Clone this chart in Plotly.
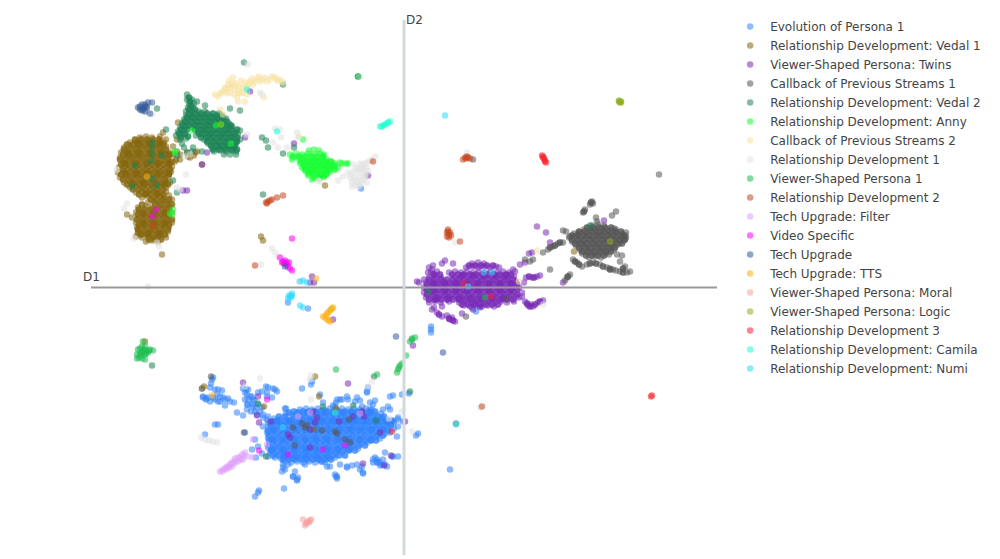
import plotly.graph_objects as go

# D1 / D2 values
evolution_persona = [
    (-104,-122),(-98,-121),(-92,-122),(-86,-121),(-80,-122),(-74,-121),(-68,-122),(-62,-121),(-56,-122),(-50,-121),(-44,-122),(-38,-121),(-32,-122),
    (-118,-126),(-112,-127),(-107,-126),(-101,-127),(-95,-126),(-89,-127),(-83,-126),(-77,-127),(-71,-126),(-65,-127),(-59,-126),(-53,-127),(-47,-126),(-41,-127),(-35,-126),(-29,-127),(-23,-126),
    (-130,-131),(-124,-132),(-118,-131),(-113,-132),(-107,-131),(-101,-132),(-95,-131),(-89,-132),(-83,-131),(-77,-132),(-71,-131),(-65,-132),(-59,-131),(-53,-132),(-47,-131),(-41,-132),(-35,-131),(-29,-132),(-23,-131),(-17,-132),
    (-134,-136),(-128,-135),(-122,-136),(-116,-135),(-110,-136),(-104,-135),(-98,-136),(-92,-135),(-86,-136),(-80,-135),(-74,-136),(-68,-135),(-62,-136),(-56,-135),(-50,-136),(-44,-135),(-38,-136),(-32,-135),(-26,-136),(-20,-135),(-14,-136),(-10,-135),
    (-136,-140),(-130,-141),(-124,-140),(-118,-141),(-112,-140),(-106,-141),(-100,-140),(-94,-141),(-88,-140),(-82,-141),(-76,-140),(-70,-141),(-64,-140),(-58,-141),(-52,-140),(-46,-141),(-40,-140),(-34,-141),(-28,-140),(-22,-141),(-16,-140),(-10,-141),
    (-133,-145),(-127,-146),(-121,-145),(-115,-146),(-109,-145),(-103,-146),(-97,-145),(-91,-146),(-85,-145),(-79,-146),(-73,-145),(-67,-146),(-61,-145),(-55,-146),(-49,-145),(-43,-146),(-37,-145),(-31,-146),(-25,-145),(-19,-146),
    (-136,-150),(-130,-151),(-124,-150),(-118,-151),(-112,-150),(-106,-151),(-100,-150),(-94,-151),(-88,-150),(-82,-151),(-76,-150),(-70,-151),(-64,-150),(-58,-151),(-52,-150),(-46,-151),(-40,-150),(-34,-151),(-28,-150),(-24,-151),
    (-133,-155),(-127,-156),(-121,-155),(-115,-156),(-109,-155),(-103,-156),(-97,-155),(-91,-156),(-85,-155),(-79,-156),(-73,-155),(-67,-156),(-61,-155),(-55,-156),(-49,-155),(-43,-156),(-37,-155),
    (-136,-160),(-130,-161),(-124,-160),(-118,-161),(-112,-160),(-106,-161),(-100,-160),(-94,-161),(-88,-160),(-82,-161),(-76,-160),(-70,-161),(-64,-160),(-58,-161),(-52,-160),(-46,-161),
    (-134,-165),(-128,-166),(-122,-165),(-116,-166),(-110,-165),(-104,-166),(-98,-165),(-92,-166),(-86,-165),(-80,-166),(-74,-165),(-68,-166),(-62,-165),
    (-129,-170),(-123,-171),(-117,-170),(-111,-171),(-105,-170),(-99,-171),(-93,-170),(-87,-171),(-81,-170),(-75,-171),(-69,-170),
    (-119,-174),(-113,-175),(-107,-174),(-101,-175),(-95,-174),(-89,-175),(-83,-174),(-79,-175),
    # left clump
    (-192,-92),(-202,-101),(-189,-102),(-182,-103),(-201,-110),(-196,-110),(-189,-112),(-184,-114),(-179,-112),(-174,-114),(-170,-115),(-179,-118),(-167,-125),(-186,-137),(-199,-147),(-189,-137),(-193,-96),(-198,-111),
    (-201,-109),(-198,-112),(-194,-114),(-191,-110),(-186,-114),(-184,-109),(-181,-110),(-176,-111),(-191,-90),(-194,-100),(-186,-102),(-187,-107),
    # column above the body
    (-161,-101),(-157,-107),(-159,-112),(-154,-109),(-156,-117),(-157,-122),(-151,-119),(-147,-127),(-144,-124),(-141,-130),(-146,-105),(-137,-105),(-129,-102),(-138,-99),(-132,-110),(-161,-128),(-141,-139),(-136,-129),(-150,-113),(-153,-124),(-148,-120),(-158,-102),
    (-156,-102),(-152,-109),(-151,-112),(-159,-105),(-152,-117),(-146,-117),(-142,-120),(-149,-124),(-141,-127),(-137,-132),(-136,-135),(-156,-112),(-157,-117),(-136,-100),(-131,-101),(-127,-104),(-142,-104),(-137,-109),
    (-149,-152),(-146,-159),(-152,-162),(-137,-145),(-136,-169),(-159,-145),(-142,-166),(-148,-170),
    # spikes under the body
    (-121,-177),(-119,-182),(-122,-184),(-116,-177),(-111,-189),(-106,-190),(-109,-184),(-107,-193),(-68,-189),(-69,-187),(-67,-191),(-77,-179),(-64,-177),(-57,-180),(-47,-177),(-44,-182),(-41,-186),(-27,-172),(-22,-177),(-19,-165),(-12,-169),(-6,-169),(-31,-175),(-25,-174),(-52,-178),
    (-29,-170),(-26,-175),(-19,-177),(-11,-169),(-121,-180),(-111,-189),(-107,-192),(-99,-177),(-82,-174),(-74,-179),(-57,-179),(-67,-189),(-42,-179),(-41,-185),(-27,-175),(-24,-178),(-31,-172),(-21,-172),(-17,-179),
    # right side and top spikes
    (-14,-109),(-11,-108),(-2,-107),(5,-106),(-16,-119),(-21,-122),(-6,-130),(-11,-134),(-1,-134),(-6,-139),(-17,-134),(14,-146),(12,-148),
    (-102,-101),(-92,-94),(-93,-97),(-37,-104),(-36,-100),(-84,-107),(-118,-121),(-64,-112),(-67,-112),(-68,-115),(-56,-112),(-71,-118),(-47,-110),(-44,-113),(-31,-117),(-34,-122),(-29,-113),
    (-119,-121),(-81,-115),(-62,-112),(-57,-109),(-69,-119),(-42,-119),(-34,-115),(-37,-105),(-49,-114),(-22,-130),(-14,-122),(-6,-132),(-14,-145),(-7,-149),
    (-116,-15),(-96,-21),(-146,-205),(-149,-209),(-145,-203),(-120,-201),
    (27,-42),(27,-39),(27,-45),(-43,99),(46,-182),(68,-20),(76,-20),(72,-24),(71,-16),
]

evolution_core = [
    (-110,-124),(-101,-124),(-95,-124),(-89,-124),(-83,-124),(-77,-124),(-71,-124),(-65,-124),(-59,-124),(-53,-124),(-47,-124),(-41,-124),(-35,-124),(-29,-124),
    (-125,-129),(-119,-129),(-110,-129),(-104,-129),(-98,-129),(-92,-129),(-86,-129),(-80,-129),(-74,-129),(-68,-129),(-62,-129),(-56,-129),(-50,-129),(-44,-129),(-38,-129),(-32,-129),(-26,-129),(-20,-129),
    (-131,-134),(-125,-134),(-119,-134),(-113,-134),(-107,-134),(-101,-134),(-95,-134),(-89,-134),(-83,-134),(-77,-134),(-71,-134),(-65,-134),(-59,-134),(-53,-134),(-47,-134),(-41,-134),(-35,-134),(-29,-134),(-23,-134),(-17,-134),(-12,-133),
    (-133,-138),(-127,-138),(-121,-138),(-115,-138),(-109,-138),(-103,-138),(-97,-138),(-91,-138),(-85,-138),(-79,-138),(-73,-138),(-67,-138),(-61,-138),(-55,-138),(-49,-138),(-43,-138),(-37,-138),(-31,-138),(-25,-138),(-19,-138),(-13,-138),
    (-136,-143),(-130,-143),(-124,-143),(-118,-143),(-112,-143),(-106,-143),(-100,-143),(-94,-143),(-88,-143),(-82,-143),(-76,-143),(-70,-143),(-64,-143),(-58,-143),(-52,-143),(-46,-143),(-40,-143),(-34,-143),(-28,-143),(-22,-143),(-16,-143),
    (-135,-148),(-129,-148),(-123,-148),(-117,-148),(-111,-148),(-105,-148),(-99,-148),(-93,-148),(-87,-148),(-81,-148),(-75,-148),(-69,-148),(-63,-148),(-57,-148),(-51,-148),(-45,-148),(-39,-148),(-33,-148),(-27,-148),(-21,-148),
    (-135,-153),(-129,-153),(-123,-153),(-117,-153),(-111,-153),(-105,-153),(-99,-153),(-93,-153),(-87,-153),(-81,-153),(-75,-153),(-69,-153),(-63,-153),(-57,-153),(-51,-153),(-45,-153),(-39,-153),(-33,-153),(-28,-153),
    (-135,-158),(-129,-158),(-123,-158),(-117,-158),(-111,-158),(-105,-158),(-99,-158),(-93,-158),(-87,-158),(-81,-158),(-75,-158),(-69,-158),(-63,-158),(-57,-158),(-51,-158),(-45,-158),(-39,-158),
    (-133,-163),(-127,-163),(-121,-163),(-115,-163),(-109,-163),(-103,-163),(-97,-163),(-91,-163),(-85,-163),(-79,-163),(-73,-163),(-67,-163),(-61,-163),(-55,-163),(-49,-163),
    (-131,-168),(-125,-168),(-119,-168),(-113,-168),(-107,-168),(-101,-168),(-95,-168),(-89,-168),(-83,-168),(-77,-168),(-71,-168),(-65,-168),(-59,-168),
    (-121,-172),(-115,-172),(-109,-172),(-103,-172),(-97,-172),(-91,-172),(-85,-172),(-79,-172),(-73,-172),
    (-115,-125),(-106,-125),(-97,-125),(-88,-125),(-79,-125),(-70,-125),(-61,-125),(-52,-125),(-43,-125),(-34,-125),
    (-127,-133),(-115,-133),(-104,-133),(-93,-133),(-82,-133),(-71,-133),(-60,-133),(-49,-133),(-38,-133),(-27,-133),
    (-131,-142),(-120,-142),(-109,-142),(-98,-142),(-87,-142),(-76,-142),(-65,-142),(-54,-142),(-43,-142),(-32,-142),(-21,-142),
    (-132,-152),(-121,-152),(-110,-152),(-99,-152),(-88,-152),(-77,-152),(-66,-152),(-55,-152),(-44,-152),(-33,-152),
    (-132,-162),(-121,-162),(-110,-162),(-99,-162),(-88,-162),(-77,-162),(-66,-162),(-55,-162),
    (-120,-169),(-109,-169),(-98,-169),(-87,-169),(-76,-169),
]

rel_vedal_1 = [
    (-264,150),(-258,151),(-252,150),
    (-274,145),(-268,146),(-262,145),(-256,146),(-250,145),(-244,146),(-240,145),
    (-280,140),(-274,141),(-268,140),(-262,141),(-256,140),(-250,141),(-244,140),(-238,141),
    (-283,135),(-277,136),(-271,135),(-265,136),(-259,135),(-253,136),(-247,135),(-241,136),(-235,135),
    (-284,130),(-278,131),(-272,130),(-266,131),(-260,130),(-254,131),(-248,130),(-242,131),(-236,130),
    (-281,125),(-275,126),(-269,125),(-263,126),(-257,125),(-251,126),(-245,125),(-239,126),(-233,125),
    (-285,120),(-279,121),(-273,120),(-267,121),(-261,120),(-255,121),(-249,120),(-243,121),(-237,120),(-232,121),
    (-286,115),(-280,116),(-274,115),(-268,116),(-262,115),(-256,116),(-250,115),(-244,116),(-238,115),(-233,116),
    (-284,110),(-278,111),(-272,110),(-266,111),(-260,110),(-254,111),(-248,110),(-242,111),(-236,110),
    (-280,105),(-274,106),(-268,105),(-262,106),(-256,105),(-250,106),(-244,105),(-238,106),(-234,105),
    (-274,100),(-268,101),(-262,100),(-256,101),(-250,100),(-244,101),(-238,100),
    (-268,95),(-262,96),(-256,95),(-250,96),(-244,95),(-238,96),
    (-262,90),(-256,91),(-250,90),(-244,91),(-240,90),(-235,92),
    (-256,85),(-250,86),(-244,85),(-238,86),(-232,88),
    (-266,80),(-258,81),(-252,80),(-246,81),(-240,80),(-234,81),
    (-268,75),(-262,76),(-256,75),(-250,76),(-244,75),(-238,76),(-232,75),
    (-265,70),(-259,71),(-253,70),(-247,71),(-241,70),(-235,71),
    (-268,65),(-262,66),(-256,65),(-250,66),(-244,65),(-238,66),(-232,65),
    (-265,60),(-259,61),(-253,60),(-247,61),(-241,60),(-235,61),
    (-266,55),(-260,56),(-254,55),(-248,56),(-242,55),(-236,56),
    (-262,50),(-256,51),(-250,50),(-244,51),(-238,50),
    (-258,46),(-252,47),(-246,46),
    (-277,73),(-272,70),(-267,60),(-266,55),(-268,51),(-263,53),(-242,33),
    (-226,165),(-241,155),(-244,151),(-227,148),(-231,141),(-227,136),(-232,126),(-224,133),(-216,131),(-207,136),(-202,123),(-238,148),(-228,128),(-210,132),
    (-231,133),(-224,128),(-236,133),(-229,126),(-214,130),(-217,135),(-209,135),
    (-143,51),(-141,47),(-79,102),(-200,-99),(-202,-101),(-89,-89),(-85,-109),(-68,-121),(-90,-142),(-140,-119),(-259,-54),(31,-12),(174,54),(170,36),
]

vedal_1_core = [
    (-269,148),(-263,148),(-257,148),(-251,148),(-245,148),
    (-277,143),(-271,143),(-265,143),(-259,143),(-253,143),(-247,143),(-241,143),
    (-280,138),(-274,138),(-268,138),(-262,138),(-256,138),(-250,138),(-244,138),(-238,138),
    (-281,133),(-275,133),(-269,133),(-263,133),(-257,133),(-251,133),(-245,133),(-239,133),(-234,133),
    (-284,128),(-278,128),(-272,128),(-266,128),(-260,128),(-254,128),(-248,128),(-242,128),(-236,128),
    (-283,123),(-277,123),(-271,123),(-265,123),(-259,123),(-253,123),(-247,123),(-241,123),(-235,123),
    (-282,118),(-276,118),(-270,118),(-264,118),(-258,118),(-252,118),(-246,118),(-240,118),(-234,118),
    (-283,113),(-277,113),(-271,113),(-265,113),(-259,113),(-253,113),(-247,113),(-241,113),(-235,113),
    (-281,108),(-275,108),(-269,108),(-263,108),(-257,108),(-251,108),(-245,108),(-239,108),
    (-277,103),(-271,103),(-265,103),(-259,103),(-253,103),(-247,103),(-241,103),(-236,103),
    (-271,98),(-265,98),(-259,98),(-253,98),(-247,98),(-241,98),
    (-265,93),(-259,93),(-253,93),(-247,93),(-241,93),
    (-253,88),(-247,88),(-241,88),(-235,88),
    (-262,83),(-249,83),(-243,83),(-237,83),(-232,83),
    (-265,78),(-259,78),(-253,78),(-247,78),(-241,78),(-235,78),
    (-266,73),(-260,73),(-254,73),(-248,73),(-242,73),(-236,73),
    (-267,68),(-261,68),(-255,68),(-249,68),(-243,68),(-237,68),(-232,68),
    (-265,63),(-259,63),(-253,63),(-247,63),(-241,63),(-235,63),
    (-266,58),(-260,58),(-254,58),(-248,58),(-242,58),(-236,58),
    (-263,53),(-257,53),(-251,53),(-245,53),(-239,53),
    (-255,48),(-249,48),(-243,48),
    (-266,144),(-255,144),(-244,144),(-276,134),(-265,134),(-254,134),(-243,134),
    (-279,124),(-268,124),(-257,124),(-246,124),(-235,124),(-279,114),(-268,114),(-257,114),(-246,114),(-235,114),
    (-272,104),(-261,104),(-250,104),(-239,104),(-258,94),(-247,94),
    (-261,74),(-250,74),(-239,74),(-261,64),(-250,64),(-239,64),(-256,54),(-245,54),
]

viewer_twins = [
    (68,24),(74,25),(80,24),
    (62,20),(68,21),(74,20),(80,21),(86,20),(92,21),(95,20),
    (27,15),(33,16),(45,15),(51,16),(57,15),(63,16),(69,15),(75,16),(81,15),(87,16),(93,15),(99,16),(105,15),
    (25,10),(31,11),(37,10),(50,11),(56,10),(62,11),(68,10),(74,11),(80,10),(86,11),(92,10),(98,11),(104,10),(110,11),
    (22,5),(28,6),(34,5),(40,6),(46,5),(52,6),(58,5),(64,6),(70,5),(76,6),(82,5),(88,6),(94,5),(100,6),(106,5),(112,6),
    (20,0),(26,1),(32,0),(38,1),(44,0),(50,1),(56,0),(62,1),(68,0),(74,1),(80,0),(86,1),(92,0),(98,1),(104,0),(110,1),(115,0),
    (20,-5),(26,-4),(32,-5),(38,-4),(44,-5),(50,-4),(56,-5),(62,-4),(68,-5),(74,-4),(80,-5),(86,-4),(92,-5),(98,-4),(104,-5),(110,-4),(118,-5),
    (22,-10),(28,-9),(34,-10),(40,-9),(46,-10),(52,-9),(58,-10),(64,-9),(70,-10),(76,-9),(82,-10),(88,-9),(94,-10),(100,-9),(106,-10),(112,-9),(115,-10),
    (25,-15),(31,-14),(37,-15),(45,-14),(55,-15),(61,-14),(67,-15),(73,-14),(79,-15),(85,-14),(91,-15),(97,-14),(103,-15),(110,-14),
    (60,-18),(66,-19),(72,-18),(78,-19),(84,-18),(90,-19),
    (15,5),(13,6),(41,27),(38,24),(49,24),(28,18),(24,15),(30,13),(25,20),(29,22),(30,-20),(20,8),
    (109,18),(116,23),(121,25),(111,16),(128,35),(125,34),(133,11),(128,10),(136,12),(122,10),(120,5),
    (118,-9),(121,-14),(124,-18),(129,-19),(134,-15),(139,-13),(127,-17),
    (28,-22),(33,-25),(38,-29),(43,-28),(48,-30),(51,-34),(46,-32),(58,-26),(38,-19),(69,-22),(76,-19),
    (133,61),(142,55),(146,45),(200,67),(9,-58),(159,5),
    (-217,97),(-221,97),(-202,123),(-197,135),(-92,11),(-94,5),(-90,5),(-110,144),(-36,112),(-154,196),(-159,150),
    (-71,-32),(-56,-96),(-161,-95),
    (-91,-124),(-87,-130),(-89,-135),(-65,-134),(-51,-129),(-42,-124),(-40,-129),(-24,-145),(-94,-160),(-116,-147),(-114,-150),(-147,-128),(-145,-135),(-133,-134),(-146,-109),(-94,-142),(1,-134),(-41,-176),(-13,-168),(-20,-178),
]

twins_core = [
    (65,22),(71,22),(77,22),(83,22),(89,22),
    (30,13),(36,13),(48,13),(54,13),(60,13),(66,13),(72,13),(78,13),(84,13),(90,13),(96,13),(102,13),(107,13),
    (25,8),(31,8),(37,8),(43,8),(49,8),(55,8),(61,8),(67,8),(73,8),(79,8),(85,8),(91,8),(97,8),(103,8),(109,8),
    (23,3),(29,3),(35,3),(41,3),(47,3),(53,3),(59,3),(65,3),(71,3),(77,3),(83,3),(89,3),(95,3),(101,3),(107,3),(113,3),
    (23,-2),(29,-2),(35,-2),(41,-2),(47,-2),(53,-2),(59,-2),(65,-2),(71,-2),(77,-2),(83,-2),(89,-2),(95,-2),(101,-2),(107,-2),(113,-2),
    (23,-7),(29,-7),(35,-7),(41,-7),(47,-7),(53,-7),(59,-7),(65,-7),(71,-7),(77,-7),(83,-7),(89,-7),(95,-7),(101,-7),(107,-7),(113,-7),
    (25,-12),(31,-12),(37,-12),(43,-12),(49,-12),(55,-12),(61,-12),(67,-12),(73,-12),(79,-12),(85,-12),(91,-12),(97,-12),(103,-12),(109,-12),
    (58,-17),(64,-17),(70,-17),(76,-17),(82,-17),(88,-17),(94,-17),
    (123,-16),(126,-19),(131,-17),(136,-14),(45,-31),(49,-33),(35,-27),(130,10),(125,11),
    (58,12),(69,12),(80,12),(91,12),(102,12),(30,4),(41,4),(52,4),(63,4),(74,4),(85,4),(96,4),(107,4),
    (30,-3),(41,-3),(52,-3),(63,-3),(74,-3),(85,-3),(96,-3),(107,-3),(33,-11),(44,-11),(55,-11),(66,-11),(77,-11),(88,-11),(99,-11),
]

callback_1 = [
    (188,62),(194,63),(200,62),
    (180,58),(186,59),(192,58),(198,59),(204,58),(210,59),(212,58),
    (170,54),(176,55),(182,54),(188,55),(194,54),(200,55),(206,54),(212,55),(218,54),(222,55),
    (165,50),(171,51),(177,50),(183,51),(189,50),(195,51),(201,50),(207,51),(213,50),(219,51),(222,50),
    (168,46),(174,47),(180,46),(186,47),(192,46),(198,47),(204,46),(210,47),(216,46),(220,47),
    (172,42),(178,43),(184,42),(190,43),(196,42),(202,43),(208,42),(214,43),
    (176,38),(182,39),(188,38),(194,39),(200,38),(206,39),(210,38),
    (178,34),(184,35),(190,34),(196,35),(202,34),(205,33),
    (185,30),(191,31),(197,30),
    (169,28),(173,25),(178,21),(183,23),(189,25),(196,23),(203,20),(209,18),(216,16),(223,15),(226,16),(221,21),(216,26),(212,17),(206,19),
    (159,45),(154,44),(149,41),(144,38),(159,57),(162,56),(166,51),(129,28),(126,26),(166,13),(163,10),(161,7),(139,35),
    (188,86),(186,83),(189,84),(181,78),(179,75),(212,76),(192,70),(193,66),(208,72),(255,113),(69,128),(102,-11),
    (146,18),(62,-29),(213,33),(218,32),(121,28),
    (-111,-140),(-102,-136),(-99,-140),(-82,-143),(-69,-144),(-67,-146),(-59,-152),(-54,-155),(-109,-158),(-97,-138),(-55,-132),(-160,-145),(-193,-89),
]

callback_1_core = [
    (183,60),(189,60),(195,60),(201,60),(207,60),
    (175,56),(181,56),(187,56),(193,56),(199,56),(205,56),(211,56),(217,56),
    (168,52),(174,52),(180,52),(186,52),(192,52),(198,52),(204,52),(210,52),(216,52),(221,52),
    (168,48),(174,48),(180,48),(186,48),(192,48),(198,48),(204,48),(210,48),(216,48),(221,48),
    (171,44),(177,44),(183,44),(189,44),(195,44),(201,44),(207,44),(213,44),(218,44),
    (175,40),(181,40),(187,40),(193,40),(199,40),(205,40),(211,40),
    (178,36),(184,36),(190,36),(196,36),(202,36),(207,36),
    (182,32),(188,32),(194,32),(200,32),
    (171,26),(175,23),(186,24),(192,24),(199,21),(206,18),(219,15),(219,19),(156,45),(151,42),(146,40),(187,85),(180,76),(164,11),
]

rel_vedal_2 = [
    (-217,193),(-217,188),(-212,188),(-215,184),(-210,184),(-216,180),(-211,180),
    (-218,176),(-212,176),(-205,176),(-199,176),
    (-218,172),(-212,172),(-206,172),(-200,172),(-194,172),(-188,172),(-182,172),
    (-220,168),(-214,169),(-208,168),(-202,169),(-196,168),(-190,169),(-184,168),(-178,169),
    (-222,164),(-216,165),(-210,164),(-204,165),(-198,164),(-192,165),(-186,164),(-180,165),(-175,164),
    (-224,160),(-218,161),(-212,160),(-206,161),(-200,160),(-194,161),(-188,160),(-182,161),(-176,160),(-172,161),
    (-226,156),(-220,157),(-206,156),(-200,157),(-194,156),(-188,157),(-182,156),(-176,157),(-170,156),(-164,157),
    (-228,152),(-222,153),(-208,152),(-202,153),(-196,152),(-190,153),(-184,152),(-178,153),(-172,152),(-166,153),
    (-224,148),(-218,149),(-200,148),(-194,149),(-188,148),(-182,149),(-176,148),(-170,149),(-164,148),
    (-222,144),(-196,144),(-190,145),(-184,144),(-178,145),(-172,144),(-168,145),
    (-220,140),(-211,140),(-192,140),(-186,141),(-180,140),(-174,141),(-170,140),
    (-212,136),(-202,136),(-190,136),(-184,137),(-178,136),(-172,137),(-168,136),
    (-180,133),(-174,133),(-168,133),
    (-160,225),(-46,211),(-121,203),(-164,177),(-174,179),(-199,182),(-207,186),(-238,158),(-247,179),
    (-142,150),(-138,147),(-136,140),(-121,134),(-110,140),(-141,93),(-227,95),(-231,107),(-217,135),(-227,132),(-242,132),
    (-252,133),(-253,126),(-269,122),(-252,109),(-247,102),(-272,101),(-252,140),(-252,145),(-252,-78),
    (-81,-119),(-51,-118),(-28,-133),(-146,-116),(-138,-169),(-30,-89),(186,62),(25,-4),(52,-136),(6,-104),
]

vedal_2_core = [
    (-215,190),(-214,186),(-213,182),(-215,178),(-209,178),(-215,174),(-209,174),(-203,174),(-197,174),(-191,174),(-185,174),
    (-217,170),(-211,170),(-205,170),(-199,170),(-193,170),(-187,170),(-181,170),
    (-219,166),(-213,166),(-207,166),(-201,166),(-195,166),(-189,166),(-183,166),(-177,166),
    (-221,162),(-215,162),(-209,162),(-203,162),(-197,162),(-191,162),(-185,162),(-179,162),(-173,162),
    (-223,158),(-217,158),(-209,158),(-203,158),(-197,158),(-191,158),(-185,158),(-179,158),(-173,158),(-167,158),
    (-225,154),(-219,154),(-205,154),(-199,154),(-193,154),(-187,154),(-181,154),(-175,154),(-169,154),
    (-223,150),(-216,151),(-203,150),(-197,150),(-191,150),(-185,150),(-179,150),(-173,150),(-167,150),
    (-197,146),(-191,146),(-185,146),(-179,146),(-173,146),(-167,146),
    (-193,142),(-187,142),(-181,142),(-175,142),(-169,142),
    (-191,138),(-185,138),(-179,138),(-173,138),(-167,138),
]

rel_anny = [
    (-95,137),(-90,138),(-85,137),
    (-114,133),(-108,134),(-102,133),(-96,134),(-90,133),(-84,134),(-80,133),
    (-112,128),(-106,129),(-100,128),(-94,129),(-88,128),(-82,129),(-77,128),
    (-104,124),(-98,125),(-92,124),(-86,125),(-80,124),(-74,125),(-69,124),(-64,125),(-58,124),
    (-102,120),(-96,121),(-90,120),(-84,121),(-78,120),(-72,121),(-66,120),
    (-98,116),(-92,117),(-86,116),(-80,117),(-74,116),
    (-96,112),(-90,113),(-84,112),(-78,113),
    (-92,108),(-85,109),
    (-62,124),(-56,124),(-101,148),
    (-188,162),(-183,163),(-173,144),(-212,157),(-229,136),(-234,74),(-231,78),(-232,73),(-229,135),
]

anny_core = [
    (-111,131),(-105,131),(-99,131),(-93,131),(-87,131),(-81,131),
    (-103,126),(-97,126),(-91,126),(-85,126),(-79,126),(-73,126),
    (-100,122),(-94,122),(-88,122),(-82,122),(-76,122),(-70,122),
    (-99,118),(-93,118),(-87,118),(-81,118),(-75,118),(-69,118),
    (-95,114),(-89,114),(-83,114),(-77,114),
    (-90,110),(-84,110),(-80,111),
]

callback_2 = [
    (-189,193),(-186,191),(-182,195),(-179,200),(-176,203),(-171,210),(-172,205),(-174,195),(-169,198),(-167,191),
    (-164,201),(-162,195),(-159,186),(-159,205),(-154,206),(-149,206),(-145,211),(-144,206),(-139,210),(-134,208),
    (-129,210),(-126,208),(-121,205),(-177,194),(-181,173),(-184,178),(-105,151),(-140,190),(-157,193),(-166,186),
    (-175,199),(-168,204),(-163,207),(-152,209),(115,6),(133,37),
    (-184,194),(-180,197),(-177,199),(-173,201),(-170,202),(-166,197),(-164,194),(-161,200),(-157,201),(-155,204),(-151,203),(-147,209),(-142,208),(-137,206),(-132,211),(-127,207),(-123,207),(-170,193),(-175,207),
]

rel_dev_1 = [
    (-29,131),(-34,127),(-39,124),(-44,124),(-51,123),(-47,120),(-42,120),(-37,120),(-56,115),(-51,116),(-46,115),(-41,115),(-36,116),
    (-54,110),(-49,110),(-44,110),(-39,110),(-52,105),(-47,105),(-42,105),(-37,105),(-46,101),(-52,101),
    (-32,128),(-37,125),(-42,122),(-48,118),(-53,113),(-44,118),(-39,113),(-50,108),(-45,107),(-41,108),(-49,103),(-44,103),(-39,118),
    (-66,107),(-61,111),(-86,107),(-84,106),(-156,223),(-144,195),(-142,193),(-287,118),(-280,79),(-277,84),(-227,100),(-224,98),(-218,113),
    (-247,45),(-245,41),(-256,1),(-270,49),(-132,39),(-129,35),(-126,31),(-143,23),(-105,6),(-131,145),(-126,140),(-123,150),(-129,159),(-124,158),
    (-107,155),(-106,150),(-117,140),(-252,173),(-257,176),(-219,131),(-214,133),(-157,153),(-44,211),
    (-203,-150),(-199,-152),(-195,-153),(-191,-154),(-187,-155),(-144,-91),(-93,-88),(-94,-92),(-93,-112),(-2,-124),(8,-144),(-15,-131),(-32,-94),(-36,-99),(-159,-99),
    (51,45),(63,135),(139,-17),(76,-120),
]

viewer_persona_1 = [
    (-261,-54),(-262,-59),(-259,-59),(-266,-62),(-262,-64),(-258,-63),(-254,-62),(-251,-63),(-267,-67),(-263,-68),(-259,-67),(-256,-65),(-267,-71),(-259,-72),
    (-264,-61),(-260,-62),(-264,-66),(-261,-65),(-258,-66),(-265,-70),(-262,-71),(-255,-63),
    (-68,-82),(8,-52),(11,-50),(6,-54),(-4,-78),(-6,-82),(-7,-85),(-2,-76),(-5,-80),(2,-68),(-27,-87),(81,-10),(8,-51),(-46,211),
]

rel_dev_2 = [
    (59,128),(63,131),(66,129),(61,130),(64,130),(62,129),(44,58),(46,55),(43,51),(45,50),(43,55),(47,52),(45,53),(44,56),(56,46),
    (-138,85),(-136,86),(-132,88),(-127,90),(-121,92),(-134,87),(-137,84),(-31,126),(-149,22),(-251,61),(78,-119),
]

tech_filter = [
    (-184,-184),(-181,-182),(-177,-179),(-179,-181),(-174,-177),(-171,-174),(-176,-180),(-169,-171),(-166,-170),(-162,-167),
    (-159,-165),(-156,-169),(-151,-170),(-161,-172),(-172,-179),(-166,-174),(-137,-157),
    (-182,-184),(-178,-182),(-175,-180),(-173,-176),(-170,-176),(-168,-174),(-164,-170),(-160,-168),(-163,-172),
    (-106,-129),(-94,-125),(-44,-126),(-151,-152),
]

video_specific = [
    (-124,30),(-121,26),(-117,25),(-119,27),(-116,21),(-112,17),(-122,25),(-115,25),(-120,24),(-118,23),(-114,19),(-112,49),(-248,78),(-252,71),
    (-137,-112),(-81,-162),(-59,-158),(-116,-167),(-145,-163),
]

tech_upgrade = [
    (-266,180),(-262,183),(-259,183),(-256,185),(-264,178),(-261,178),(-257,180),(-252,185),(-259,176),(-254,174),
    (-264,181),(-260,180),(-262,177),(-258,181),(-119,21),(-8,-49),(39,-65),
]

tech_tts = [
    (-71,-20),(-74,-23),(-77,-26),(-81,-29),(-77,-32),(-74,-34),(-72,-21),(-76,-25),(-79,-30),(-78,-28),(-75,-33),(-73,-22),(-192,-108),(-257,111),(-88,9),
]

viewer_moral = [(-101,-232),(-94,-233),(-97,-235),(-99,-238),(-93,-232),(-96,-234),(-98,-236),(-95,-235)]

viewer_logic = [(216,186),(215,187),(217,185),(216,185),(215,186),(217,186),(206,46),(-183,163)]

rel_dev_3 = [(138,132),(139,130),(141,127),(139,131),(142,125),(140,129),(141,126),(248,-108),(247,-109),(60,4),(87,-9),(-12,-144)]

rel_camila = [(-24,161),(-21,162),(-17,164),(-14,166),(-19,163),(-22,161),(-16,165),(-157,198),(-127,156),(-69,-125)]

rel_numi = [
    (-114,-9),(-112,-6),(-116,-11),(-113,-10),(-115,-8),(-112,-8),(-104,-18),(-101,-20),(-121,-140),(41,172),(80,15),(88,15),
    (-101,7),(-104,6),(-97,5),(52,-137),(64,1),
]

# the dense cores are listed twice, so that the overlap goes as solid as in the picture
series = [
    ("Evolution of Persona 1", evolution_persona + evolution_core * 2, "#3283FE"),
    ("Relationship Development: Vedal 1", rel_vedal_1 + vedal_1_core * 2, "#85660D"),
    ("Viewer-Shaped Persona: Twins", viewer_twins + twins_core * 2, "#782AB6"),
    ("Callback of Previous Streams 1", callback_1 + callback_1_core * 2, "#565656"),
    ("Relationship Development: Vedal 2", rel_vedal_2 + vedal_2_core * 2, "#1C8356"),
    ("Relationship Development: Anny", rel_anny + anny_core * 2, "#16FF32"),
    ("Callback of Previous Streams 2", callback_2, "#F7E1A0"),
    ("Relationship Development 1", rel_dev_1, "#E2E2E2"),
    ("Viewer-Shaped Persona 1", viewer_persona_1, "#1CBE4F"),
    ("Relationship Development 2", rel_dev_2, "#C4451C"),
    ("Tech Upgrade: Filter", tech_filter, "#DEA0FD"),
    ("Video Specific", video_specific, "#FE00FA"),
    ("Tech Upgrade", tech_upgrade, "#325A9B"),
    ("Tech Upgrade: TTS", tech_tts, "#FEAF16"),
    ("Viewer-Shaped Persona: Moral", viewer_moral, "#F8A19F"),
    ("Viewer-Shaped Persona: Logic", viewer_logic, "#90AD1C"),
    ("Relationship Development 3", rel_dev_3, "#F6222E"),
    ("Relationship Development: Camila", rel_camila, "#1CFFCE"),
    ("Relationship Development: Numi", rel_numi, "#2ED9FF"),
]

fig = go.Figure()
for name, points, color in series:
    fig.add_trace(go.Scatter(
        x=[p[0] for p in points],
        y=[p[1] for p in points],
        mode="markers",
        name=name,
        marker=dict(color=color, size=6.5, opacity=0.55),
    ))

fig.add_hline(y=0, line_color="#999999", line_width=2, layer="above")
fig.add_vline(x=0, line_color="#d4d9dc", line_width=3, layer="above")

fig.add_annotation(x=-313, y=0, text="D1", showarrow=False, xanchor="center", yanchor="bottom", yshift=1,
                   font=dict(size=12, color="#444"))
fig.add_annotation(x=0, y=267.5, text="D2", showarrow=False, xanchor="left", yanchor="middle",
                   font=dict(size=12, color="#444"))

# the page body adds 8px on the left and top, so the margins allow for that;
# the legend starts above the plot area, hence the y axis domain below 1
fig.update_layout(
    width=1000,
    height=559,
    template="plotly_white",
    paper_bgcolor="white",
    plot_bgcolor="white",
    margin=dict(l=83, r=291, t=4, b=12),
    font=dict(family="DejaVu Sans, Verdana, sans-serif", size=12, color="#444"),
    showlegend=True,
    legend=dict(x=1.021, y=1, yanchor="top"),
    xaxis=dict(range=[-313, 313], visible=False),
    yaxis=dict(range=[-267.5, 267.5], visible=False, domain=[0, 0.98527]),
)

fig.write_html("out.html")
